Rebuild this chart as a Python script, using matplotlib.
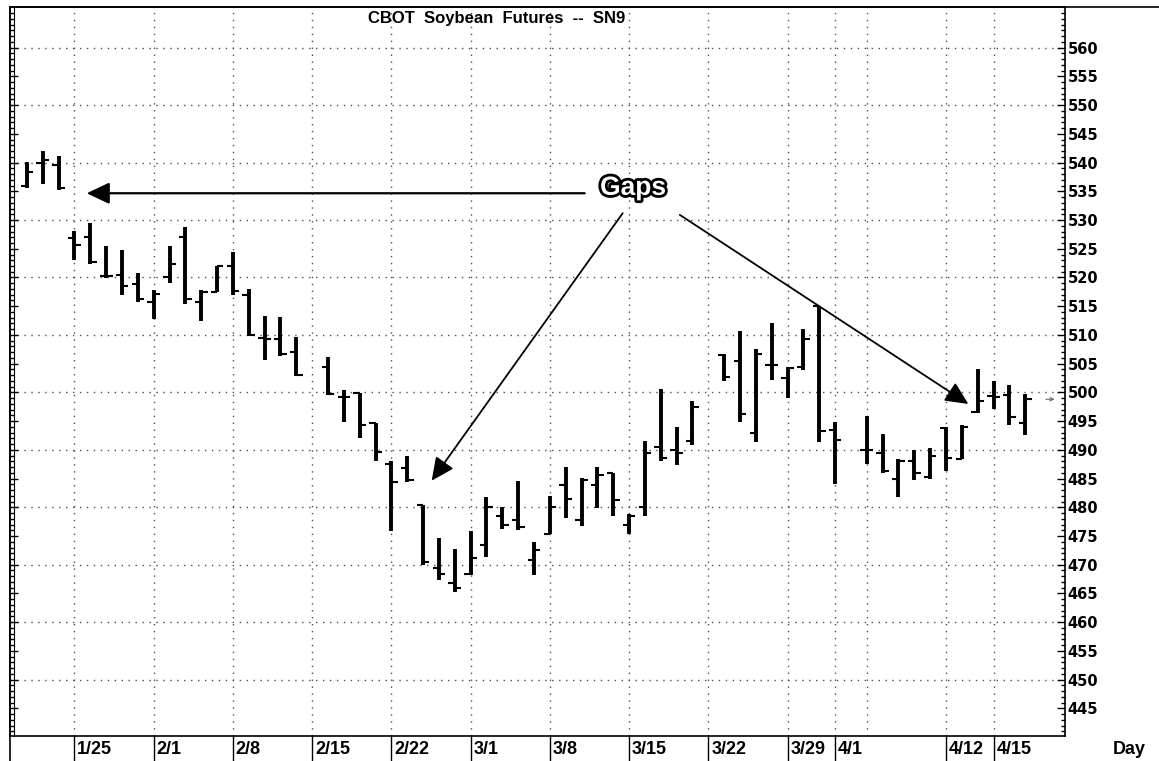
import numpy as np
import pandas as pd
import matplotlib.pyplot as plt
import matplotlib.patheffects as pe
from matplotlib.lines import Line2D

# daily bars, SN9 (July 1999 soybeans)
dates = ['1/20', '1/21', '1/22', '1/25', '1/26', '1/27', '1/28', '1/29',
         '2/1', '2/2', '2/3', '2/4', '2/5', '2/8', '2/9', '2/10', '2/11', '2/12',
         '2/16', '2/17', '2/18', '2/19', '2/22', '2/23', '2/24', '2/25', '2/26',
         '3/1', '3/2', '3/3', '3/4', '3/5', '3/8', '3/9', '3/10', '3/11', '3/12',
         '3/15', '3/16', '3/17', '3/18', '3/19', '3/23', '3/24', '3/25', '3/26',
         '3/29', '3/30', '3/31', '4/1', '4/5', '4/6', '4/7', '4/8', '4/9',
         '4/12', '4/13', '4/14', '4/15', '4/16', '4/19']
opens = [536.0, 540.0, 539.5, 526.9, 527.0, 520.3, 520.5, 518.9,
         515.8, 520.0, 527.0, 515.8, 517.4, 522.0, 517.0, 509.4, 509.3, 507.0,
         504.5, 499.2, 499.9, 494.6, 487.6, 486.8, 480.4, 469.4, 466.9,
         468.4, 473.4, 478.5, 477.8, 470.8, 475.3, 483.9, 477.8, 483.9, 486.0,
         476.9, 480.0, 490.5, 490.0, 491.6, 506.5, 505.5, 492.9, 504.8,
         502.5, 504.4, 515.1, 493.4, 490.0, 489.4, 484.9, 488.1, 485.2,
         493.8, 488.4, 496.5, 499.3, 499.6, 494.6]
highs = [540.1, 542.0, 541.2, 528.1, 529.5, 525.4, 524.7, 520.8,
         517.9, 525.4, 528.8, 517.9, 522.0, 524.4, 518.0, 513.3, 513.1, 509.6,
         506.1, 500.5, 499.9, 494.7, 488.0, 488.9, 480.4, 474.6, 472.8,
         475.9, 481.8, 480.0, 484.5, 473.9, 481.9, 487.0, 485.1, 487.0, 486.0,
         478.8, 491.6, 500.6, 494.0, 498.5, 506.7, 510.6, 507.6, 512.1,
         504.5, 511.0, 515.1, 494.8, 495.9, 492.8, 488.4, 490.0, 490.4,
         494.0, 494.4, 504.1, 501.9, 501.3, 499.8]
lows = [535.5, 536.3, 535.2, 523.0, 522.4, 519.9, 516.9, 515.8,
        512.8, 519.0, 515.4, 512.4, 517.4, 517.0, 509.9, 505.7, 506.4, 502.9,
        499.5, 494.9, 492.0, 488.0, 475.9, 484.4, 469.9, 467.3, 465.3,
        468.2, 471.4, 476.3, 476.0, 468.2, 475.3, 478.1, 476.8, 479.9, 478.4,
        475.3, 478.4, 488.1, 487.4, 490.8, 501.9, 494.9, 491.4, 502.2,
        499.0, 503.9, 491.4, 484.0, 487.6, 485.9, 481.8, 484.8, 484.9,
        486.3, 488.4, 496.4, 497.1, 494.4, 492.6]
closes = [538.3, 540.5, 535.5, 525.7, 522.7, 520.3, 518.6, 516.2,
          517.1, 522.4, 516.2, 517.5, 522.0, 517.6, 510.0, 509.3, 506.7, 503.1,
          499.8, 499.2, 494.3, 489.6, 484.4, 484.7, 470.4, 468.4, 465.9,
          471.1, 480.0, 476.9, 476.6, 472.6, 480.0, 481.5, 484.8, 485.7, 481.2,
          478.5, 489.5, 488.5, 489.5, 497.5, 502.7, 496.2, 506.7, 504.8,
          504.3, 509.3, 493.2, 491.7, 490.0, 486.3, 488.1, 485.9, 489.0,
          488.6, 494.0, 498.5, 499.2, 495.7, 498.8]

label_dates = ['1/25', '2/1', '2/8', '2/15', '2/22', '3/1', '3/8', '3/15',
               '3/22', '3/29', '4/1', '4/12', '4/15']
grid_dates = label_dates + ['4/5']
price_grid = np.arange(450, 561, 10)
price_labels = np.arange(445, 561, 5)

# x axis = weekday slots (holidays keep an empty slot)
days = pd.bdate_range('1999-01-20', '1999-04-26')


def pos(md):
    m, d = md.split('/')
    return days.get_loc(pd.Timestamp(1999, int(m), int(d)))


x = np.array([pos(d) for d in dates])

W, H = 1159, 761
fig = plt.figure(figsize=(W / 100, H / 100), dpi=100)
ax = fig.add_axes([10 / W, 1 - 736 / H, 1055 / W, 729 / H])
ax.set_xlim(-1.07, 65.51)
ax.set_ylim(440.19, 567.08)

dot = (0, (1, 4))
for v in price_grid:
    ax.axhline(v, color='0.3', lw=1, ls=dot, zorder=0)
for d in grid_dates:
    ax.axvline(pos(d), color='0.3', lw=1, ls=dot, zorder=0)

# OHLC bars
ax.vlines(x, lows, highs, color='k', lw=2.8)
ax.hlines(opens, x - 0.4, x, color='k', lw=1.5)
ax.hlines(closes, x, x + 0.4, color='k', lw=1.5)

# right price scale, ticks on both sides
ax.set_yticks(price_labels, [str(v) for v in price_labels],
              fontweight='bold', fontfamily='DejaVu Sans')
ax.set_yticks(np.arange(441, 567, 1), minor=True)
ax.tick_params(axis='y', which='both', direction='in', left=True, right=True,
               labelleft=False, labelright=True, width=1, pad=2)
ax.tick_params(axis='y', which='major', length=6, labelsize=10.5)
ax.tick_params(axis='y', which='minor', length=3)
ax.set_xticks([])
for s in ax.spines.values():
    s.set_linewidth(1.2)

# date strip under the plot
xt = ax.get_xaxis_transform()
for d in label_dates:
    p = pos(d)
    ax.plot([p, p], [0, -25 / 729], transform=xt, clip_on=False, color='k', lw=1)
    ax.text(p + 0.18, -14 / 729, d, transform=xt, ha='left', va='center',
            fontsize=13, fontweight='bold', family='Liberation Sans')
fig.text(1113 / W, 1 - 750 / H, 'Day', ha='left', va='center',
         fontsize=13, fontweight='bold', family='Liberation Sans')

fig.text(497 / W, 1 - 18 / H, 'CBOT  Soybean  Futures  --  SN9', ha='center',
         va='center', fontsize=12, fontweight='bold', family='Liberation Sans')

# frame extras
fig.add_artist(Line2D([10 / W, 1], [1 - 7 / H] * 2, color='k', lw=1.2))
fig.add_artist(Line2D([10 / W] * 2, [0, 1 - 7 / H], color='k', lw=1.2))
fig.add_artist(Line2D([13.5 / W] * 2, [1 - 736 / H, 1 - 7 / H], color='k', lw=0.8))

# "Gaps" callout
ax.text(38.25, 535.6, 'Gaps', ha='center', va='center', fontsize=19,
        fontweight='bold', family='Liberation Sans', color='white',
        path_effects=[pe.withStroke(linewidth=4, foreground='black')])
head = '-|>,head_length=0.7,head_width=0.33'
ax.annotate('', xy=(3.77, 534.66), xytext=(35.2, 534.66),
            arrowprops=dict(arrowstyle=head, mutation_scale=20, color='k',
                            lw=1.6, shrinkA=0, shrinkB=0))
ax.annotate('', xy=(25.54, 484.63), xytext=(37.6, 531.2),
            arrowprops=dict(arrowstyle=head, mutation_scale=20, color='k',
                            lw=1.3, shrinkA=0, shrinkB=0))
ax.annotate('', xy=(59.41, 497.98), xytext=(41.2, 530.9),
            arrowprops=dict(arrowstyle=head, mutation_scale=20, color='k',
                            lw=1.3, shrinkA=0, shrinkB=0))

# last-price marker
ax.annotate('', xy=(64.85, closes[-1]), xytext=(64.3, closes[-1]),
            arrowprops=dict(arrowstyle='->', mutation_scale=6, color='0.4',
                            lw=0.8, shrinkA=0, shrinkB=0))

fig.savefig('out.png', dpi=100)
